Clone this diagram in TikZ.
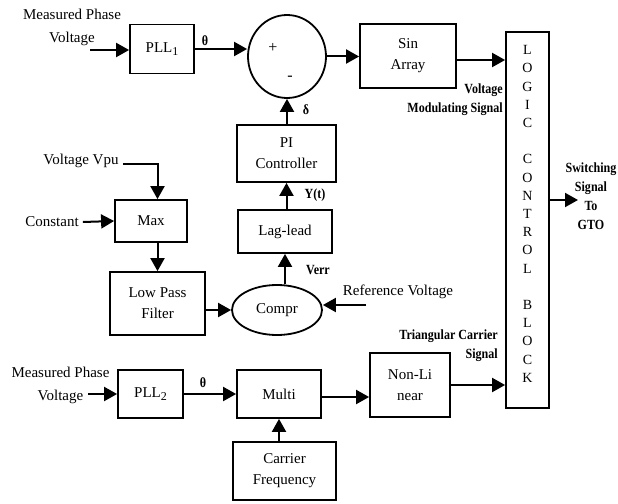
\documentclass[tikz,border=0pt]{standalone}
\usepackage{fontspec}
\setmainfont{Liberation Serif}
\newfontfamily\lblfont{Liberation Serif}[FakeStretch=0.86]
\usetikzlibrary{arrows.meta,shapes.geometric,calc}
\begin{document}
\begin{tikzpicture}[x=1pt,y=-1pt,
  box/.style={draw, line width=1.8pt, rectangle, align=center, inner sep=0pt, font=\fontsize{15}{21}\selectfont},
  oval/.style={draw, line width=1.8pt, ellipse, align=center, inner sep=0pt, font=\fontsize{15}{21}\selectfont},
  arr/.style={line width=2pt, -{Triangle[length=13pt,width=14pt]}},
  lbl/.style={font=\fontsize{15}{23}\selectfont, align=center, inner sep=0pt},
  blbl/.style={font=\lblfont\bfseries\fontsize{14}{19}\selectfont, inner sep=0pt}]
\useasboundingbox (0,0) rectangle (618,503);

% blocks
\node[box, minimum width=64pt, minimum height=49pt] (pll1) at (162,49) {PLL\raisebox{-3pt}{\fontsize{12}{12}\selectfont 1}};
\node[oval, minimum width=78pt, minimum height=83pt] (sum) at (287,56.5) {};
\node[font=\fontsize{16}{16}\selectfont, inner sep=0pt] (plus) at (273,48) {+};
\node[font=\fontsize{16}{16}\selectfont, inner sep=0pt] (minus) at (290,78) {-};
\node[box, minimum width=96pt, minimum height=64pt] (sin) at (408,56) {Sin\\Array};
\node[box, minimum width=43pt, minimum height=376pt] (logic) at (527.5,220) {};
\node[font=\fontsize{14}{18.2}\selectfont, align=center, inner sep=0pt] (logictxt) at (527.5,214)
  {L\\O\\G\\I\\C\\\mbox{}\\C\\O\\N\\T\\R\\O\\L\\\mbox{}\\B\\L\\O\\C\\K};
\node[box, minimum width=99pt, minimum height=57pt] (pi) at (286.5,153.5) {PI\\Controller};
\node[box, minimum width=94pt, minimum height=43pt] (lag) at (285,231.5) {Lag-lead};
\node[oval, minimum width=90pt, minimum height=50pt] (compr) at (277,310) {Compr};
\node[box, minimum width=95pt, minimum height=63pt] (lpf) at (157.5,303.5) {Low Pass\\Filter};
\node[box, minimum width=72pt, minimum height=42pt] (max) at (151,221) {Max};
\node[box, minimum width=65pt, minimum height=48pt] (pll2) at (150.5,394) {PLL\raisebox{-3pt}{\fontsize{12}{12}\selectfont 2}};
\node[box, minimum width=84pt, minimum height=48pt] (multi) at (279,394) {Multi};
\node[box, minimum width=80pt, minimum height=64pt] (nonlin) at (410,385) {Non-Li\\near};
\node[box, minimum width=103pt, minimum height=58pt] (carrier) at (284.5,471) {Carrier\\Frequency};

% text labels
\node[lbl] (mpv1) at (72,27) {Measured Phase\\Voltage};
\node[lbl] (mpv2) at (60.5,385) {Measured Phase\\Voltage};
\node[lbl] (vpu) at (81,161) {Voltage Vpu};
\node[lbl] (const) at (52,222) {Constant};
\node[lbl] (refv) at (398,292) {Reference Voltage};
\node[blbl] (theta1) at (205,41) {θ};
\node[blbl] (theta2) at (203,383) {θ};
\node[blbl] (delta) at (306,110) {δ};
\node[blbl] (yt) at (315,195) {Y(t)};
\node[blbl] (verr) at (318,270) {Verr};
\node[blbl, align=right, anchor=east] (vms) at (503,100) {Voltage\\Modulating Signal};
\node[blbl, align=right, anchor=east] (tcs) at (498,346) {Triangular Carrier\\Signal};
\node[blbl, align=center] (sw) at (591,196) {Switching\\Signal\\To\\GTO};

% free ends
\coordinate (in1) at (90,50);
\coordinate (in2) at (88,394);
\coordinate (refstart) at (366,305);
\coordinate (out) at (578,200);

% connectors
\draw[arr] (in1) -- (pll1.west |- in1);
\draw[arr] (pll1.east) -- (pll1.east -| sum.west);
\draw[arr] (sum.east) -- (sum.east -| sin.west);
\draw[arr] ([yshift=-4pt]sin.east) -- ([yshift=-4pt]sin.east -| logic.west);
\draw[arr] (pi.north -| sum.south) -- (sum.south);
\draw[arr] (lag.north -| pi.south) -- (pi.south);
\draw[arr] (compr.north -| lag.south) -- (lag.south);
\draw[arr] (refstart) -- (refstart -| compr.east);
\draw[arr] (lpf.east |- compr.west) -- (compr.west);
\draw[arr] (max.south -| lpf.north) -- (lpf.north);
\draw[arr] (vpu.east) ++(4,3) -| (max.north -| lpf.north);
\draw[arr] ([xshift=4pt]const.east) -- (max.west);
\draw[arr] (in2) -- (pll2.west |- in2);
\draw[arr] (pll2.east) -- (multi.west);
\draw[arr] ([yshift=-3pt]multi.east) -- ([yshift=-3pt]multi.east -| nonlin.west);
\draw[arr] (nonlin.east) -- (nonlin.east -| logic.west);
\draw[arr] (carrier.north -| multi.south) -- (multi.south);
\draw[arr] (logic.east |- out) -- (out);
\end{tikzpicture}
\end{document}
